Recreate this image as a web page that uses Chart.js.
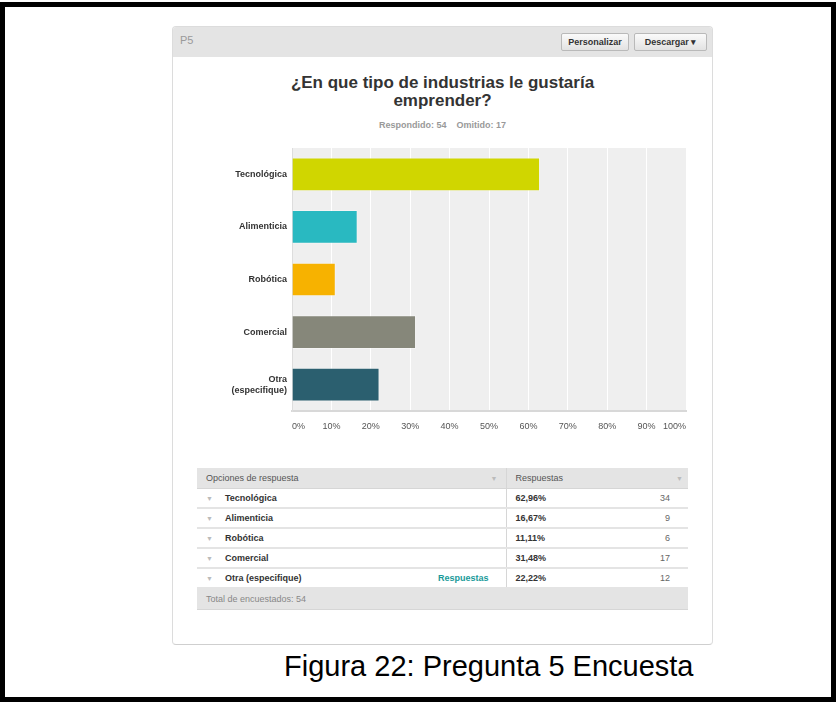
<!DOCTYPE html>
<html lang="es">
<head>
    <meta charset="UTF-8">
    <title>P5 - Encuesta</title>
    <script src="https://cdn.jsdelivr.net/npm/chart.js"></script>
    <style>
        body {
            margin: 0;
            width: 836px;
            height: 702px;
            background: #fff;
            font-family: 'Liberation Sans', Arial, sans-serif;
            position: relative;
            overflow: hidden;
        }
        .marco {
            position: absolute;
            left: 0; top: 2px;
            width: 826px; height: 690px;
            border: 5px solid #000;
        }
        .tarjeta {
            position: absolute;
            left: 172px; top: 26px;
            width: 539px; height: 617px;
            border: 1px solid #dcdcdc;
            border-bottom-color: #cfcfcf;
            border-radius: 4px;
            background: #fff;
        }
        .cabecera {
            position: absolute;
            left: 0; top: 0; right: 0;
            height: 30px;
            background: #e4e4e4;
            border-radius: 3px 3px 0 0;
        }
        .p5 {
            position: absolute;
            left: 7px; top: 7px;
            font-size: 11px;
            color: #9a9a9a;
        }
        .boton {
            position: absolute;
            top: 6px;
            height: 16px;
            line-height: 16px;
            border: 1px solid #b9b9b9;
            border-radius: 2px;
            background: linear-gradient(#fafafa, #e2e2e2);
            font-size: 9px;
            font-weight: bold;
            color: #333;
            text-align: center;
        }
        .titulo {
            position: absolute;
            left: 172px; width: 541px; top: 74px;
            text-align: center;
            font-size: 17px;
            font-weight: bold;
            line-height: 18px;
            color: #333;
        }
        .subtitulo {
            position: absolute;
            left: 172px; width: 541px; top: 120px;
            text-align: center;
            font-size: 9px;
            font-weight: bold;
            color: #999;
        }
        #grafico {
            position: absolute;
            left: 200px; top: 140px;
        }
        table {
            position: absolute;
            left: 197px; top: 468px;
            width: 491px;
            table-layout: fixed;
            border-collapse: collapse;
            font-size: 9px;
        }
        td {
            height: 18px;
            padding: 0;
            border-bottom: 2px solid #e4e4e4;
            color: #333;
            white-space: nowrap;
        }
        tr.gris td {
            background: #e4e4e4;
            color: #555;
            height: 20px;
            border-bottom: 1px solid #d6d6d6;
        }
        tr.pie td {
            color: #888;
            border-bottom: 1px solid #d6d6d6;
        }
        .flecha {
            color: #bbb;
            font-size: 7px;
        }
        .sep { border-right: 1px solid #d6d6d6; }
        .negrita { font-weight: bold; }
        .enlace { color: #1a9a9a; font-weight: bold; text-align: right; padding-right: 17px; }
        .cuenta { text-align: right; padding-right: 18px; color: #666; }
        .figura {
            position: absolute;
            left: 284px; top: 650px;
            font-size: 29px;
            color: #000;
        }
    </style>
</head>
<body>
    <div class="marco"></div>
    <div class="tarjeta">
        <div class="cabecera">
            <div class="p5">P5</div>
            <div class="boton" style="left:388px; width:66px;">Personalizar</div>
            <div class="boton" style="left:461px; width:71px;">Descargar &#9662;</div>
        </div>
    </div>

    <div class="titulo">¿En que tipo de industrias le gustaría<br>emprender?</div>
    <div class="subtitulo">Respondido: 54&nbsp;&nbsp;&nbsp;&nbsp;Omitido: 17</div>

    <canvas id="grafico" width="500" height="300"></canvas>

    <table id="tabla">
        <colgroup>
            <col style="width:220px;">
            <col style="width:89px;">
            <col style="width:120px;">
            <col style="width:62px;">
        </colgroup>
        <tr class="gris">
            <td style="padding-left:9px;">Opciones de respuesta</td>
            <td class="sep" style="text-align:right; padding-right:8px;"><span class="flecha">&#9660;</span></td>
            <td style="padding-left:9px;">Respuestas</td>
            <td style="text-align:right; padding-right:5px;"><span class="flecha">&#9660;</span></td>
        </tr>
    </table>

    <div class="figura">Figura 22: Pregunta 5 Encuesta</div>

    <script>
        // Datos
        var categorias = ['Tecnológica', 'Alimenticia', 'Robótica', 'Comercial', 'Otra (especifique)'];
        var porcentajes = [62.96, 16.67, 11.11, 31.48, 22.22];
        var respuestas = [34, 9, 6, 17, 12];
        var colores = ['#d0d600', '#29b9c1', '#f7b200', '#86877a', '#2b5f6f'];
        var marcas = [0, 10, 20, 30, 40, 50, 60, 70, 80, 90, 100];
        var totalEncuestados = 54;

        // Tabla de respuestas
        var tabla = document.getElementById('tabla');
        categorias.forEach(function (cat, i) {
            var fila = document.createElement('tr');
            var pct = porcentajes[i].toFixed(2).replace('.', ',') + '%';
            var extra = cat.indexOf('Otra') === 0 ? 'Respuestas' : '';
            fila.innerHTML =
                '<td style="padding-left:9px;"><span class="flecha">&#9660;</span>' +
                '<span class="negrita" style="margin-left:12px;">' + cat + '</span></td>' +
                '<td class="sep enlace">' + extra + '</td>' +
                '<td class="negrita" style="padding-left:9px;">' + pct + '</td>' +
                '<td class="cuenta">' + respuestas[i] + '</td>';
            tabla.appendChild(fila);
        });
        var pie = document.createElement('tr');
        pie.className = 'gris pie';
        pie.innerHTML = '<td colspan="4" style="padding-left:9px;">Total de encuestados: ' + totalEncuestados + '</td>';
        tabla.appendChild(pie);

        // Fondo gris del área del gráfico
        var fondo = {
            id: 'fondo',
            beforeDraw: function (chart) {
                var a = chart.chartArea;
                chart.ctx.save();
                chart.ctx.fillStyle = '#efefef';
                chart.ctx.fillRect(a.left, a.top, a.right - a.left, a.bottom - a.top);
                chart.ctx.restore();
            }
        };

        var etiquetas = categorias.map(function (c) {
            return c === 'Otra (especifique)' ? ['Otra', '(especifique)'] : c;
        });

        var ctx = document.getElementById('grafico').getContext('2d');
        var grafico = new Chart(ctx, {
            type: 'bar',
            data: {
                labels: etiquetas,
                datasets: [{
                    data: porcentajes,
                    backgroundColor: colores,
                    borderColor: 'rgba(255,255,255,0.35)',
                    borderWidth: 1,
                    barPercentage: 0.64,
                    categoryPercentage: 1
                }]
            },
            options: {
                indexAxis: 'y',
                responsive: false,
                animation: false,
                layout: { padding: { top: 8, right: 14, left: 0, bottom: 0 } },
                plugins: {
                    legend: { display: false },
                    tooltip: { enabled: false }
                },
                scales: {
                    x: {
                        min: 0,
                        max: 100,
                        afterBuildTicks: function (axis) {
                            axis.ticks = marcas.map(function (v) { return { value: v }; });
                        },
                        afterFit: function (axis) {
                            axis.height = 29;
                            axis.paddingLeft = 0;
                            axis.paddingRight = 0;
                        },
                        grid: { color: '#ffffff', lineWidth: 1, drawTicks: false },
                        border: { color: '#d8d8d8', width: 2 },
                        ticks: {
                            align: 'inner',
                            padding: 10,
                            color: '#555',
                            font: { family: 'Liberation Sans', size: 9 },
                            callback: function (v) { return v + '%'; }
                        }
                    },
                    y: {
                        afterFit: function (axis) {
                            axis.width = 92;
                            axis.paddingTop = 0;
                            axis.paddingBottom = 0;
                        },
                        grid: { display: false, drawTicks: false },
                        border: { color: '#dddddd', width: 1 },
                        ticks: {
                            padding: 5,
                            color: '#333',
                            font: { family: 'Liberation Sans', size: 9, weight: 'bold', lineHeight: 1.25 }
                        }
                    }
                }
            },
            plugins: [fondo]
        });
    </script>
</body>
</html>
